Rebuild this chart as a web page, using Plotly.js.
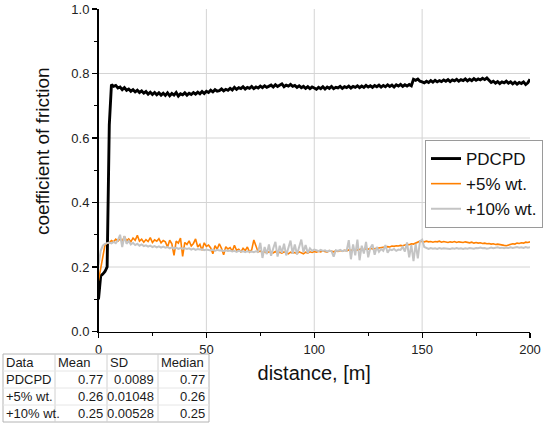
<!DOCTYPE html>
<html>
<head>
<meta charset="utf-8">
<script src="https://cdn.plot.ly/plotly-3.0.1.min.js"></script>
<style>
    html, body { margin: 0; padding: 0; background: #ffffff; }
    #graficoAtrito { width: 550px; height: 423px; }
</style>
</head>
<body>
<div id="graficoAtrito"></div>
<script>

/* =========================================
   DADOS (distância 0..200 m, passo 1 m)
========================================= */

let pdcpd = [
    0.100, 0.172, 0.178, 0.186, 0.200, 0.640, 0.766, 0.760, 0.763, 0.755, 0.758,
    0.750, 0.756, 0.748, 0.752, 0.745, 0.750, 0.743, 0.748, 0.741, 0.746,
    0.739, 0.744, 0.736, 0.742, 0.735, 0.741, 0.734, 0.740, 0.733, 0.739,
    0.732, 0.740, 0.731, 0.738, 0.733, 0.741, 0.730, 0.737, 0.734, 0.740,
    0.733, 0.739, 0.735, 0.741, 0.736, 0.742, 0.737, 0.744, 0.738, 0.745,
    0.741, 0.748, 0.743, 0.750, 0.745, 0.747, 0.752, 0.746, 0.751, 0.748,
    0.754, 0.749, 0.757, 0.751, 0.756, 0.753, 0.759, 0.752, 0.757, 0.754,
    0.760, 0.753, 0.758, 0.755, 0.761, 0.756, 0.762, 0.757, 0.760, 0.764,
    0.758, 0.765, 0.760, 0.763, 0.768, 0.759, 0.764, 0.761, 0.766, 0.760,
    0.763, 0.757, 0.762, 0.756, 0.760, 0.754, 0.759, 0.753, 0.758, 0.755,
    0.751, 0.757, 0.753, 0.759, 0.752, 0.758, 0.754, 0.760, 0.753, 0.757,
    0.755, 0.760, 0.754, 0.759, 0.756, 0.761, 0.755, 0.760, 0.757, 0.762,
    0.756, 0.761, 0.757, 0.763, 0.758, 0.762, 0.757, 0.763, 0.759, 0.764,
    0.758, 0.763, 0.759, 0.765, 0.760, 0.764, 0.758, 0.765, 0.761, 0.766,
    0.760, 0.765, 0.761, 0.766, 0.762, 0.782, 0.779, 0.783, 0.776, 0.774,
    0.771, 0.776, 0.772, 0.778, 0.773, 0.779, 0.774, 0.778, 0.775, 0.780,
    0.776, 0.781, 0.775, 0.780, 0.777, 0.782, 0.776, 0.781, 0.778, 0.783,
    0.777, 0.782, 0.778, 0.784, 0.779, 0.783, 0.780, 0.785, 0.781, 0.786,
    0.780, 0.772, 0.776, 0.770, 0.775, 0.769, 0.774, 0.771, 0.776, 0.770,
    0.774, 0.768, 0.773, 0.767, 0.772, 0.769, 0.774, 0.766, 0.771, 0.782
];

let wt5 = [
    0.158, 0.195, 0.235, 0.268, 0.274, 0.275, 0.282, 0.278, 0.286, 0.280, 0.288,
    0.279, 0.295, 0.281, 0.287, 0.278, 0.290, 0.283, 0.298, 0.280, 0.286,
    0.277, 0.285, 0.279, 0.291, 0.276, 0.284, 0.280, 0.288, 0.275, 0.282,
    0.278, 0.262, 0.283, 0.272, 0.236, 0.280, 0.274, 0.290, 0.233, 0.276,
    0.270, 0.281, 0.265, 0.273, 0.287, 0.262, 0.270, 0.252, 0.275, 0.264,
    0.268, 0.259, 0.241, 0.266, 0.255, 0.272, 0.258, 0.238, 0.263, 0.256,
    0.260, 0.249, 0.267, 0.252, 0.255, 0.247, 0.258, 0.251, 0.262, 0.246,
    0.253, 0.284, 0.262, 0.246, 0.250, 0.244, 0.248, 0.243, 0.247, 0.245,
    0.244, 0.248, 0.242, 0.246, 0.243, 0.247, 0.244, 0.241, 0.246, 0.243,
    0.245, 0.242, 0.247, 0.244, 0.241, 0.246, 0.243, 0.247, 0.245, 0.248,
    0.246, 0.249, 0.247, 0.250, 0.248, 0.246, 0.251, 0.249, 0.247, 0.250,
    0.248, 0.251, 0.249, 0.252, 0.250, 0.253, 0.251, 0.254, 0.252, 0.253,
    0.254, 0.256, 0.253, 0.257, 0.255, 0.258, 0.256, 0.257, 0.259, 0.258,
    0.260, 0.262, 0.261, 0.263, 0.262, 0.265, 0.264, 0.266, 0.265, 0.267,
    0.266, 0.268, 0.270, 0.269, 0.272, 0.271, 0.274, 0.276, 0.280, 0.279,
    0.278, 0.280, 0.278, 0.279, 0.277, 0.279, 0.278, 0.280, 0.277, 0.279,
    0.278, 0.276, 0.278, 0.277, 0.279, 0.276, 0.278, 0.277, 0.276, 0.278,
    0.276, 0.275, 0.277, 0.274, 0.276, 0.274, 0.275, 0.273, 0.274, 0.272,
    0.273, 0.271, 0.272, 0.270, 0.271, 0.269, 0.268, 0.267, 0.266, 0.268,
    0.270, 0.272, 0.271, 0.274, 0.273, 0.275, 0.274, 0.277, 0.276, 0.278
];

let wt10 = [
    0.205, 0.250, 0.266, 0.272, 0.274, 0.276, 0.273, 0.278, 0.274, 0.283, 0.300,
    0.262, 0.296, 0.272, 0.281, 0.270, 0.275, 0.268, 0.272, 0.266, 0.270,
    0.265, 0.267, 0.263, 0.266, 0.262, 0.265, 0.261, 0.264, 0.260, 0.263,
    0.260, 0.262, 0.258, 0.261, 0.257, 0.260, 0.256, 0.259, 0.257, 0.258,
    0.256, 0.258, 0.254, 0.257, 0.253, 0.256, 0.254, 0.255, 0.252, 0.254,
    0.253, 0.251, 0.254, 0.250, 0.253, 0.251, 0.252, 0.249, 0.252, 0.250,
    0.251, 0.248, 0.250, 0.247, 0.250, 0.248, 0.249, 0.246, 0.249, 0.247,
    0.248, 0.246, 0.249, 0.247, 0.275, 0.228, 0.262, 0.240, 0.270, 0.235,
    0.258, 0.278, 0.232, 0.266, 0.244, 0.272, 0.236, 0.261, 0.282, 0.241,
    0.270, 0.239, 0.264, 0.285, 0.246, 0.268, 0.243, 0.258, 0.250, 0.254,
    0.252, 0.249, 0.253, 0.250, 0.252, 0.248, 0.251, 0.249, 0.232, 0.252,
    0.250, 0.253, 0.249, 0.252, 0.250, 0.283, 0.224, 0.270, 0.236, 0.285,
    0.221, 0.266, 0.242, 0.278, 0.230, 0.259, 0.270, 0.238, 0.262, 0.247,
    0.256, 0.250, 0.268, 0.244, 0.255, 0.252, 0.256, 0.250, 0.254, 0.253,
    0.262, 0.248, 0.276, 0.230, 0.268, 0.218, 0.272, 0.227, 0.280, 0.285,
    0.262, 0.258, 0.256, 0.259, 0.257, 0.258, 0.256, 0.259, 0.257, 0.258,
    0.257, 0.258, 0.256, 0.258, 0.257, 0.259, 0.257, 0.258, 0.256, 0.258,
    0.257, 0.259, 0.258, 0.257, 0.259, 0.258, 0.260, 0.258, 0.259, 0.257,
    0.258, 0.260, 0.258, 0.259, 0.261, 0.259, 0.260, 0.258, 0.260, 0.259,
    0.261, 0.259, 0.260, 0.262, 0.260, 0.261, 0.259, 0.262, 0.260, 0.261
];

// tabela de estatísticas (canto inferior esquerdo)
let tabelaCabecalho = ["Data", "Mean", "SD", "Median"];
let tabelaNomes = ["PDCPD", "+5% wt.", "+10% wt."];
let tabelaMedia = ["0.77", "0.26", "0.25"];
let tabelaSD = ["0.0089", "0.01048", "0.00528"];
let tabelaMediana = ["0.77", "0.26", "0.25"];

let xTicks = [0, 50, 100, 150, 200];
let yTicks = [0, 0.2, 0.4, 0.6, 0.8, 1.0];


/* =========================================
   GRÁFICO COEFICIENTE DE ATRITO
========================================= */

const W = 550, H = 423;
const px = v => v / W;
const py = v => 1 - v / H;

let trace1 = {
    y: pdcpd, x0: 0, dx: 1,
    mode: "lines",
    name: "PDCPD",
    line: { color: "#000000", width: 2.9 }
};

let trace2 = {
    y: wt5, x0: 0, dx: 1,
    mode: "lines",
    name: "+5% wt.",
    line: { color: "#ff8000", width: 1.6 }
};

let trace3 = {
    y: wt10, x0: 0, dx: 1,
    mode: "lines",
    name: "+10% wt.",
    line: { color: "#c4c4c4", width: 2 }
};

// grade: só as linhas internas, como no original
let shapes = [];
[50, 100, 150].forEach(v => shapes.push({
    type: "line", xref: "x", yref: "y", layer: "below",
    x0: v, x1: v, y0: 0, y1: 1,
    line: { color: "#d4d4d4", width: 1 }
}));
[0.2, 0.4, 0.6, 0.8].forEach(v => shapes.push({
    type: "line", xref: "x", yref: "y", layer: "below",
    x0: 0, x1: 200, y0: v, y1: v,
    line: { color: "#d4d4d4", width: 1 }
}));

// tabela desenhada com shapes + annotations
let colX = [3, 55, 107, 158, 209];
let rowY = [354, 371, 388, 405, 422];

shapes.push({
    type: "rect", xref: "paper", yref: "paper",
    x0: px(colX[0]), x1: px(colX[4]), y0: py(rowY[4]), y1: py(rowY[0]),
    line: { color: "#b4b4b4", width: 1 }, fillcolor: "rgba(0,0,0,0)"
});
colX.slice(1, 4).forEach(c => shapes.push({
    type: "line", xref: "paper", yref: "paper",
    x0: px(c), x1: px(c), y0: py(rowY[4]), y1: py(rowY[0]),
    line: { color: "#d0d0d0", width: 1 }
}));
rowY.slice(1, 4).forEach(r => shapes.push({
    type: "line", xref: "paper", yref: "paper",
    x0: px(colX[0]), x1: px(colX[4]), y0: py(r), y1: py(r),
    line: { color: "#e6e6e6", width: 1 }
}));

let fonteTabela = { family: "Liberation Sans, Arial, sans-serif", size: 13, color: "#1a1a1a" };
let annotations = [];

tabelaCabecalho.forEach((t, c) => annotations.push({
    text: t, showarrow: false, xref: "paper", yref: "paper",
    x: px(colX[c] + 1), xanchor: "left",
    y: py((rowY[0] + rowY[1]) / 2), yanchor: "middle",
    font: fonteTabela
}));

let colunas = [tabelaMedia, tabelaSD, tabelaMediana];
tabelaNomes.forEach((nome, r) => {
    let yc = py((rowY[r + 1] + rowY[r + 2]) / 2);
    annotations.push({
        text: nome, showarrow: false, xref: "paper", yref: "paper",
        x: px(colX[0] + 1), xanchor: "left", y: yc, yanchor: "middle",
        font: fonteTabela
    });
    colunas.forEach((col, c) => annotations.push({
        text: col[r], showarrow: false, xref: "paper", yref: "paper",
        x: px(colX[c + 2] - 2), xanchor: "right", y: yc, yanchor: "middle",
        font: fonteTabela
    }));
});

// título do eixo y fica um pouco acima do centro no original
annotations.push({
    text: "coefficient of friction", showarrow: false,
    xref: "paper", yref: "paper",
    x: px(43), y: py(151), xanchor: "center", yanchor: "middle",
    textangle: -90,
    font: { size: 19, color: "#111111" }
});

let layout = {

    width: W,
    height: H,
    margin: { t: 0, l: 0, r: 0, b: 0 },
    paper_bgcolor: "#ffffff",
    plot_bgcolor: "#ffffff",
    font: { family: "Liberation Sans, Arial, sans-serif", color: "#222222" },

    legend: {
        x: px(425), y: py(140),
        xanchor: "left", yanchor: "top",
        bgcolor: "#ffffff",
        bordercolor: "#9a9a9a",
        borderwidth: 1,
        font: { size: 17, color: "#111111" },
        tracegroupgap: 0
    },

    xaxis: {
        domain: [px(98.5), px(530)],
        range: [0, 200],
        showgrid: false,
        zeroline: false,
        showline: true, linecolor: "#000000", linewidth: 1.5,
        ticks: "outside", ticklen: 5, tickwidth: 1.2, tickcolor: "#000000",
        tickmode: "array", tickvals: xTicks,
        minor: { tickmode: "array", tickvals: [25, 75, 125, 175], ticks: "outside", ticklen: 3, tickcolor: "#000000", tickwidth: 1 },
        tickfont: { size: 13 },
        title: { text: "distance, [m]", font: { size: 20, color: "#111111" }, standoff: 10 }
    },

    yaxis: {
        domain: [py(331.5), py(9)],
        range: [0, 1],
        showgrid: false,
        zeroline: false,
        showline: true, linecolor: "#000000", linewidth: 1.5,
        ticks: "outside", ticklen: 5, tickwidth: 1.2, tickcolor: "#000000",
        tickmode: "array", tickvals: yTicks, tickformat: ".1f",
        minor: { tickmode: "array", tickvals: [0.1, 0.3, 0.5, 0.7, 0.9], ticks: "outside", ticklen: 3, tickcolor: "#000000", tickwidth: 1 },
        tickfont: { size: 13 }
    },

    shapes: shapes,
    annotations: annotations,
    showlegend: true
};

Plotly.newPlot(
    "graficoAtrito",
    [trace1, trace2, trace3],
    layout,
    { displayModeBar: false, staticPlot: true }
);

</script>
</body>
</html>
